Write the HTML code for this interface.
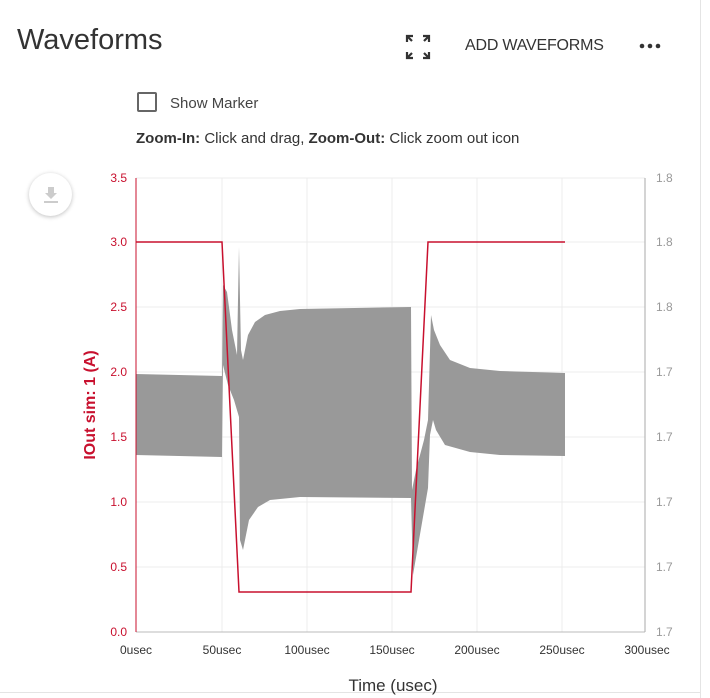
<!DOCTYPE html>
<html><head><style>
body{margin:0;width:710px;height:698px;background:#fff;font-family:"Liberation Sans",sans-serif;overflow:hidden;position:relative}
.t{position:absolute}
</style></head><body>
<div style="position:absolute;left:700px;top:0;width:1px;height:698px;background:#e4e4e4"></div>
<div style="position:absolute;left:0;top:692px;width:700px;height:1px;background:#e4e4e4"></div>
<div class="t" style="left:17px;top:24px;font-size:29px;color:#333">Waveforms</div>
<svg class="t" style="left:405px;top:34px" width="26" height="26" viewBox="0 0 26 26" fill="none" stroke="#333" stroke-width="2.2">
<path d="M2 8V2h6M2 2l5 5M24 8V2h-6M24 2l-5 5M2 18v6h6M2 24l5-5M24 18v6h-6M24 24l-5-5"/></svg>
<div class="t" style="left:465px;top:37px;font-size:16px;color:#333;letter-spacing:-0.2px">ADD WAVEFORMS</div>
<svg class="t" style="left:638px;top:42px" width="24" height="8"><circle cx="4" cy="4" r="2.3" fill="#333"/><circle cx="12" cy="4" r="2.3" fill="#333"/><circle cx="20" cy="4" r="2.3" fill="#333"/></svg>
<div class="t" style="left:137px;top:92px;width:20px;height:20px;border:2px solid #666;border-radius:2px;box-sizing:border-box"></div>
<div class="t" style="left:170px;top:95px;font-size:15px;color:#444">Show Marker</div>
<div class="t" style="left:136px;top:130px;font-size:15px;color:#333"><b>Zoom-In:</b> Click and drag, <b>Zoom-Out:</b> Click zoom out icon</div>
<div class="t" style="left:29px;top:173px;width:43px;height:43px;border-radius:50%;background:#fff;box-shadow:0 1px 4px rgba(0,0,0,.25)"></div>
<svg class="t" style="left:41px;top:185px" width="20" height="20"><path d="M7 2h6v6h3l-6 6-6-6h3z" fill="#ccc"/><rect x="3" y="16" width="14" height="2" fill="#ccc"/></svg>
<svg class="t" style="left:0;top:0" width="710" height="698">
<g stroke="#ececec" stroke-width="1">
<line x1="222" y1="178" x2="222" y2="632"/><line x1="307" y1="178" x2="307" y2="632"/><line x1="392" y1="178" x2="392" y2="632"/><line x1="477" y1="178" x2="477" y2="632"/><line x1="562" y1="178" x2="562" y2="632"/>
<line x1="136" y1="178" x2="645" y2="178"/><line x1="136" y1="242" x2="645" y2="242"/><line x1="136" y1="307" x2="645" y2="307"/><line x1="136" y1="372" x2="645" y2="372"/><line x1="136" y1="437" x2="645" y2="437"/><line x1="136" y1="502" x2="645" y2="502"/><line x1="136" y1="567" x2="645" y2="567"/>
</g>
<polygon fill="#999" points="136,374 222,376 223,285 227,292 232,330 237,355 238,300 239,247 240,300 241,350 243,360 248,335 255,322 265,315 280,311 300,309 410,307 411,307 412,490 416,470 424,440 428,420 431,315 434,330 440,345 450,360 470,368 500,371 565,373 565,456 500,455 470,452 445,445 436,430 433,420 430,435 428,488 413,575 411,498 300,497 270,500 258,507 249,520 243,550 240,540 239,417 234,400 228,385 223,365 222,457 136,455"/>
<line x1="136" y1="632" x2="645" y2="632" stroke="#bbb"/>
<line x1="645" y1="178" x2="645" y2="632" stroke="#aaa"/>
<line x1="136" y1="178" x2="136" y2="632" stroke="#c8102e"/>
<polyline fill="none" stroke="#c8102e" stroke-width="1.5" points="136,242 222,242 239,592 411,592 428,242 565,242"/>
<g font-size="12" fill="#c8102e" text-anchor="end">
<text x="127" y="182">3.5</text><text x="127" y="246">3.0</text><text x="127" y="311">2.5</text><text x="127" y="376">2.0</text><text x="127" y="441">1.5</text><text x="127" y="506">1.0</text><text x="127" y="571">0.5</text><text x="127" y="636">0.0</text>
</g>
<g font-size="12" fill="#999">
<text x="656" y="182">1.8</text><text x="656" y="246">1.8</text><text x="656" y="311">1.8</text><text x="656" y="376">1.7</text><text x="656" y="441">1.7</text><text x="656" y="506">1.7</text><text x="656" y="571">1.7</text><text x="656" y="636">1.7</text>
</g>
<g font-size="12" fill="#333" text-anchor="middle">
<text x="136" y="654">0usec</text><text x="222" y="654">50usec</text><text x="307" y="654">100usec</text><text x="392" y="654">150usec</text><text x="477" y="654">200usec</text><text x="562" y="654">250usec</text><text x="647" y="654">300usec</text>
</g>
<text x="393" y="691" font-size="17" fill="#333" text-anchor="middle">Time (usec)</text>
<text transform="translate(95,405) rotate(-90)" font-size="16" font-weight="bold" fill="#c8102e" text-anchor="middle">IOut sim: 1 (A)</text>
</svg>
</body></html>
